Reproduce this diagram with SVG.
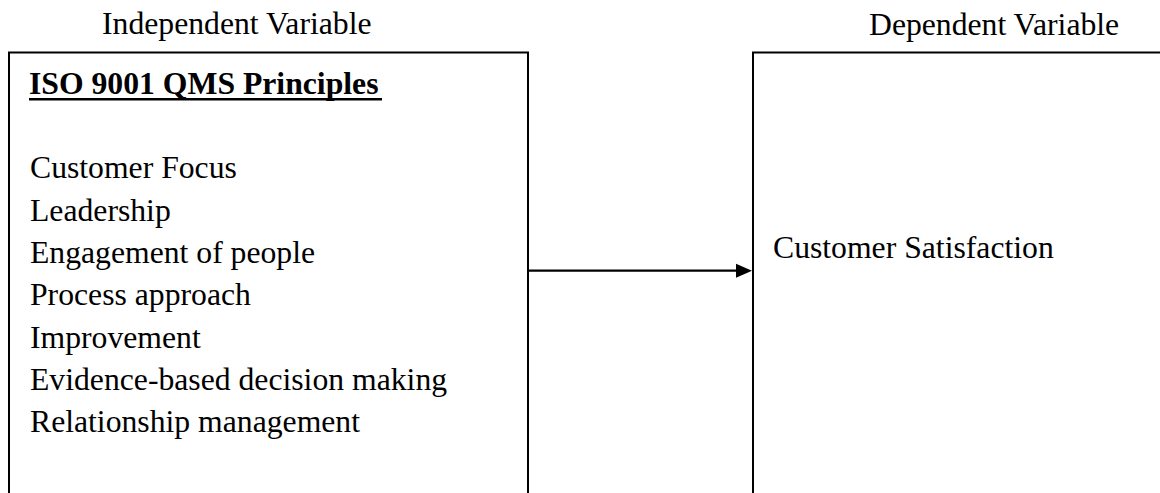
<svg xmlns="http://www.w3.org/2000/svg" width="1160" height="493" viewBox="0 0 1160 493">
<style>
text{font-family:"Liberation Serif","Times New Roman",serif;font-size:31.7px;fill:#000}
.title{font-weight:bold}
.box{fill:none;stroke:#000;stroke-width:2}
.conn{stroke:#000;stroke-width:2.2;fill:none}
</style>
<rect width="1160" height="493" fill="#fff"/>
<g id="header-independent"><text x="102" y="34">Independent Variable</text></g>
<g id="header-dependent"><text x="869" y="35">Dependent Variable</text></g>
<g id="node-independent">
<path class="box" d="M9,500 V52.5 H528 V500"/>
<text class="title" x="29" y="94">ISO 9001 QMS Principles</text>
<line x1="29" y1="99.3" x2="382" y2="99.3" stroke="#000" stroke-width="2.6"/>
<text x="30" y="178">Customer Focus</text>
<text x="30" y="221">Leadership</text>
<text x="30" y="263">Engagement of people</text>
<text x="30" y="305">Process approach</text>
<text x="30" y="348">Improvement</text>
<text x="30" y="390">Evidence-based decision making</text>
<text x="30" y="432">Relationship management</text>
</g>
<g id="node-dependent">
<path class="box" d="M753,500 V52.5 H1170"/>
<text x="773" y="258">Customer Satisfaction</text>
</g>
<g id="connectors">
<line class="conn" x1="528" y1="270.7" x2="738" y2="270.7"/>
<polygon points="736,263.7 752,270.7 736,277.7" fill="#000"/>
</g>
</svg>
